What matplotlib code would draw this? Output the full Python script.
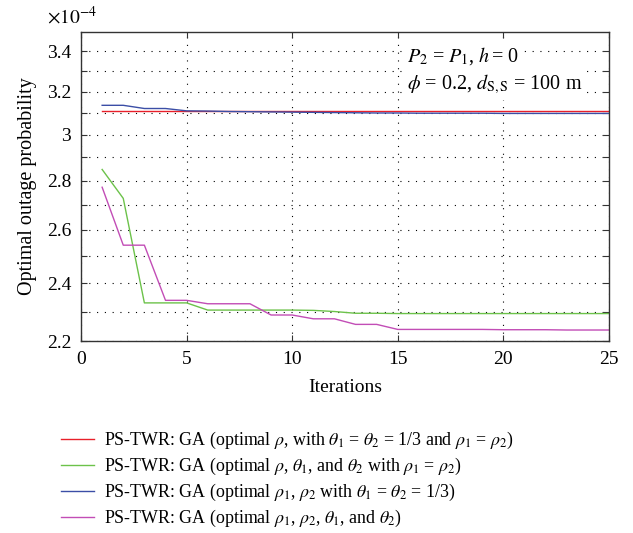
import matplotlib
matplotlib.use("Agg")
import matplotlib.pyplot as plt
import numpy as np

plt.rcParams['font.family'] = ['Liberation Serif', 'DejaVu Serif']
plt.rcParams['mathtext.fontset'] = 'stix'

iterations = np.arange(1, 26)

# outage probability in units of 1e-4
ga_rho = [3.107] * 25
ga_rho_theta = [2.847, 2.726, 2.330, 2.330, 2.330, 2.305, 2.305, 2.305, 2.305, 2.305,
                2.304, 2.300, 2.294, 2.294, 2.293, 2.293, 2.293, 2.293, 2.293, 2.293,
                2.293, 2.293, 2.293, 2.293, 2.293]
ga_rho12 = [3.135, 3.135, 3.120, 3.120, 3.109, 3.108, 3.106, 3.105, 3.104, 3.103,
            3.102, 3.101, 3.100, 3.099, 3.099, 3.098, 3.098, 3.098, 3.098, 3.097,
            3.097, 3.097, 3.097, 3.097, 3.097]
ga_all = [2.772, 2.541, 2.541, 2.339, 2.339, 2.327, 2.327, 2.327, 2.288, 2.288,
          2.275, 2.275, 2.256, 2.256, 2.239, 2.239, 2.239, 2.239, 2.239, 2.238,
          2.238, 2.238, 2.237, 2.237, 2.237]

labels = [
    r"PS-TWR: GA (optimal $\rho$, with $\theta_1$ = $\theta_2$ = 1/3 and $\rho_1$ = $\rho_2$)",
    r"PS-TWR: GA (optimal $\rho$, $\theta_1$, and $\theta_2$ with $\rho_1$ = $\rho_2$)",
    r"PS-TWR: GA (optimal $\rho_1$, $\rho_2$ with $\theta_1$ = $\theta_2$ = 1/3)",
    r"PS-TWR: GA (optimal $\rho_1$, $\rho_2$, $\theta_1$, and $\theta_2$)",
]
colors = ['#e8202a', '#6cc24a', '#3b4ea6', '#c24db6']

yticks = [2.2, 2.4, 2.6, 2.8, 3.0, 3.2, 3.4]
yticklabels = ['2.2', '2.4', '2.6', '2.8', '3', '3.2', '3.4']
yminor = [2.3, 2.5, 2.7, 2.9, 3.1, 3.3]

fig = plt.figure(figsize=(6.33, 5.33), dpi=100)
ax = fig.add_axes([0.128, 0.36, 0.834, 0.58])

series = [ga_rho, ga_rho_theta, ga_rho12, ga_all]
for vals, c, lab in zip(series, colors, labels):
    ax.plot(iterations, vals, color=c, lw=1.0, label=lab)

ax.set_yscale('log')
ax.set_ylim(2.2, 3.5)
ax.set_xlim(0, 25)
ax.set_yticks(yticks)
ax.set_yticklabels(yticklabels)
ax.set_yticks(yminor, minor=True)
ax.set_yticklabels([], minor=True)
ax.set_xticks([0, 5, 10, 15, 20, 25])
ax.tick_params(direction='in', top=True, right=True, labelsize=14, length=4, width=0.8,
               color='#333333', pad=7)
ax.tick_params(which='minor', direction='in', right=True, left=True, length=4, width=0.8, color='#333333')

dots = (0, (1, 6))
ax.grid(True, which='major', color='black', lw=0.8, linestyle=dots)
ax.grid(True, which='minor', axis='y', color='black', lw=0.8, linestyle=dots)

for s in ax.spines.values():
    s.set_color('#333333')
    s.set_linewidth(1.0)

ax.set_xlabel('Iterations', fontsize=14, labelpad=8)
ax.set_ylabel('Optimal outage probability', fontsize=14.5, labelpad=7)
fig.text(0.074, 0.968, r'$\times10^{-4}$', fontsize=14, ha='left', va='center')

box = dict(facecolor='white', edgecolor='none', pad=3)
ax.text(15.45, 3.375, r'$P_2$ = $P_1$, $h\,$= 0', fontsize=14.5, va='center', bbox=box, zorder=5)
ax.text(15.45, 3.236, r'$\phi$ = 0.2, $d_{\mathrm{S,S}}$ = 100 m', fontsize=14.5, va='center',
        bbox=box, zorder=5)

fig.legend(loc='upper left', bbox_to_anchor=(0.085, 0.207), frameon=False,
           fontsize=12.9, handlelength=1.85, handletextpad=0.55, labelspacing=0.27,
           borderaxespad=0)

fig.savefig('out.png', dpi=100)
